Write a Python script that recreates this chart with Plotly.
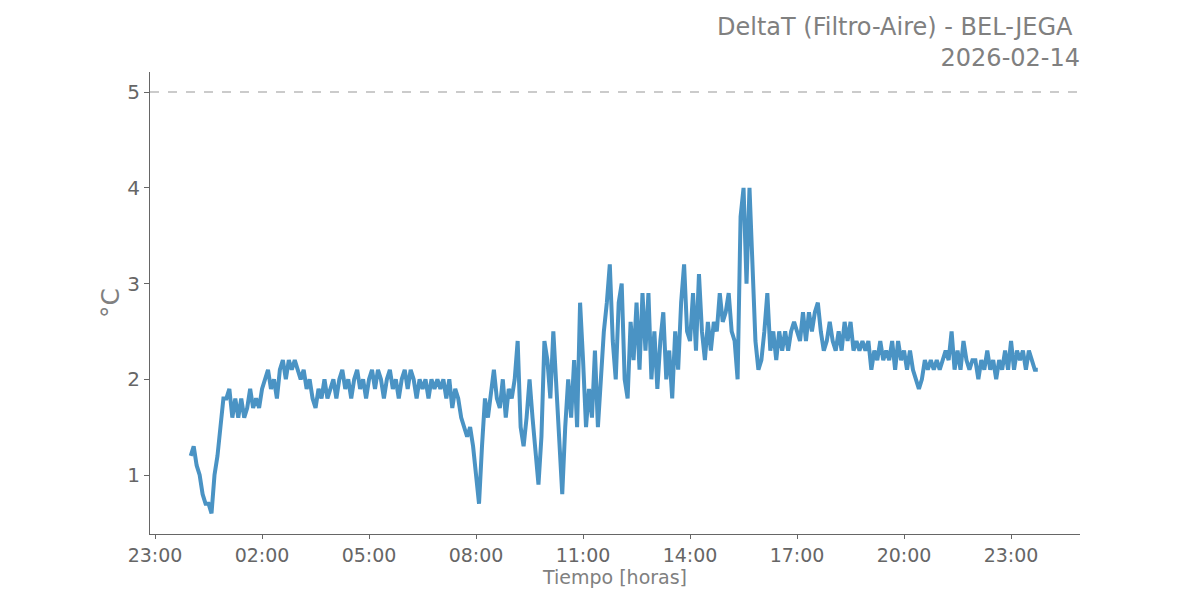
import pandas as pd
import plotly.graph_objects as go

# DeltaT readings, one value every 5 minutes, grouped by hour (2026-02-14)
h00 = [1.2, 1.3, 1.1, 1.0, 0.8, 0.7, 0.7, 0.6, 1.0, 1.2, 1.5, 1.8]
h01 = [1.8, 1.9, 1.6, 1.8, 1.6, 1.8, 1.6, 1.7, 1.9, 1.7, 1.8, 1.7]
h02 = [1.9, 2.0, 2.1, 1.9, 2.0, 1.8, 2.1, 2.2, 2.0, 2.2, 2.1, 2.2]
h03 = [2.1, 2.0, 2.1, 1.9, 2.0, 1.8, 1.7, 1.9, 1.8, 2.0, 1.8, 1.9]
h04 = [2.0, 1.8, 2.0, 2.1, 1.9, 2.0, 1.8, 2.0, 2.1, 1.9, 2.0, 1.8]
h05 = [2.0, 2.1, 1.9, 2.1, 2.0, 1.8, 2.0, 2.1, 1.9, 2.0, 1.8, 2.0]
h06 = [2.1, 1.9, 2.1, 2.0, 1.8, 2.0, 1.9, 2.0, 1.8, 2.0, 1.9, 2.0]
h07 = [1.9, 2.0, 1.8, 2.0, 1.7, 1.9, 1.8, 1.6, 1.5, 1.4, 1.5, 1.3]
h08 = [1.0, 0.7, 1.3, 1.8, 1.6, 1.9, 2.1, 1.8, 1.7, 2.0, 1.6, 1.9]
h09 = [1.8, 2.0, 2.4, 1.5, 1.3, 1.6, 2.0, 1.6, 1.2, 0.9, 1.4, 2.4]
h10 = [2.2, 1.8, 2.5, 1.9, 1.4, 0.8, 1.5, 2.0, 1.6, 2.2, 1.5, 2.8]
h11 = [2.2, 1.5, 1.9, 1.6, 2.3, 1.5, 2.0, 2.5, 2.8, 3.2, 2.4, 2.0]
h12 = [2.8, 3.0, 2.0, 1.8, 2.6, 2.2, 2.8, 2.1, 2.9, 2.3, 2.9, 2.0]
h13 = [2.5, 1.9, 2.4, 2.7, 2.0, 2.3, 1.8, 2.5, 2.1, 2.8, 3.2, 2.5]
h14 = [2.4, 2.9, 2.3, 3.1, 2.5, 2.2, 2.6, 2.3, 2.6, 2.5, 2.9, 2.6]
h15 = [2.7, 2.9, 2.5, 2.4, 2.0, 3.7, 4.0, 3.0, 4.0, 3.3, 2.4, 2.1]
h16 = [2.2, 2.5, 2.9, 2.3, 2.5, 2.2, 2.5, 2.3, 2.5, 2.3, 2.5, 2.6]
h17 = [2.5, 2.4, 2.7, 2.4, 2.7, 2.5, 2.7, 2.8, 2.5, 2.3, 2.4, 2.6]
h18 = [2.4, 2.3, 2.5, 2.3, 2.6, 2.4, 2.6, 2.3, 2.4, 2.3, 2.4, 2.3]
h19 = [2.4, 2.1, 2.3, 2.2, 2.4, 2.2, 2.3, 2.2, 2.4, 2.1, 2.4, 2.2]
h20 = [2.3, 2.1, 2.3, 2.1, 2.0, 1.9, 2.0, 2.2, 2.1, 2.2, 2.1, 2.2]
h21 = [2.1, 2.2, 2.3, 2.2, 2.5, 2.1, 2.3, 2.1, 2.4, 2.2, 2.1, 2.2]
h22 = [2.2, 2.0, 2.2, 2.1, 2.3, 2.1, 2.2, 2.0, 2.2, 2.1, 2.3, 2.1]
h23 = [2.4, 2.1, 2.3, 2.2, 2.3, 2.1, 2.3, 2.2, 2.1, 2.1]

values = (h00 + h01 + h02 + h03 + h04 + h05 + h06 + h07 + h08 + h09 + h10 + h11
          + h12 + h13 + h14 + h15 + h16 + h17 + h18 + h19 + h20 + h21 + h22 + h23)
times = pd.date_range("2026-02-14 00:00", periods=len(values), freq="5min")

threshold = 5
title_lines = ["DeltaT (Filtro-Aire) - BEL-JEGA&nbsp;", "2026-02-14"]
x_range = ["2026-02-13 22:51:30", "2026-02-15 00:56:00"]
y_range = [0.384, 5.21]

grey = "#808080"
tick_grey = "#666666"
font_family = "DejaVu Sans"

fig = go.Figure()
fig.add_trace(go.Scatter(
    x=times, y=values, mode="lines",
    line=dict(color="#4A93C4", width=4),
    showlegend=False,
))
fig.add_shape(type="line", xref="paper", yref="y", x0=0, x1=1,
              y0=threshold, y1=threshold,
              line=dict(color="#BBBBBB", width=1.5, dash="dash"))

fig.add_annotation(
    text="<br>".join(title_lines), xref="paper", yref="paper",
    x=1, y=1, xanchor="right", yanchor="bottom", align="right",
    yshift=-2, xshift=2, showarrow=False,
    font=dict(size=24, color=grey, family=font_family),
)

fig.update_layout(
    width=1200, height=600,
    margin=dict(l=142, r=128, t=64, b=74),
    paper_bgcolor="white", plot_bgcolor="white",
    font=dict(family=font_family, color=tick_grey),
)
fig.update_xaxes(
    range=x_range, type="date",
    tick0="2026-02-13 23:00", dtick=3 * 3600000, tickformat="%H:%M",
    showgrid=False, zeroline=False,
    showline=True, linecolor=tick_grey, linewidth=1,
    ticks="outside", ticklen=4, tickcolor=tick_grey,
    tickfont=dict(size=19, color=tick_grey),
    title=dict(text="Tiempo [horas]", standoff=5,
               font=dict(size=19, color=grey)),
)
fig.update_yaxes(
    range=y_range, tickvals=[1, 2, 3, 4, 5],
    showgrid=False, zeroline=False,
    showline=True, linecolor=tick_grey, linewidth=1,
    ticks="outside", ticklen=5, tickcolor=tick_grey,
    tickfont=dict(size=20, color=tick_grey),
    title=dict(text="°C", standoff=0, font=dict(size=25, color=grey)),
)

fig.write_html("out.html")
